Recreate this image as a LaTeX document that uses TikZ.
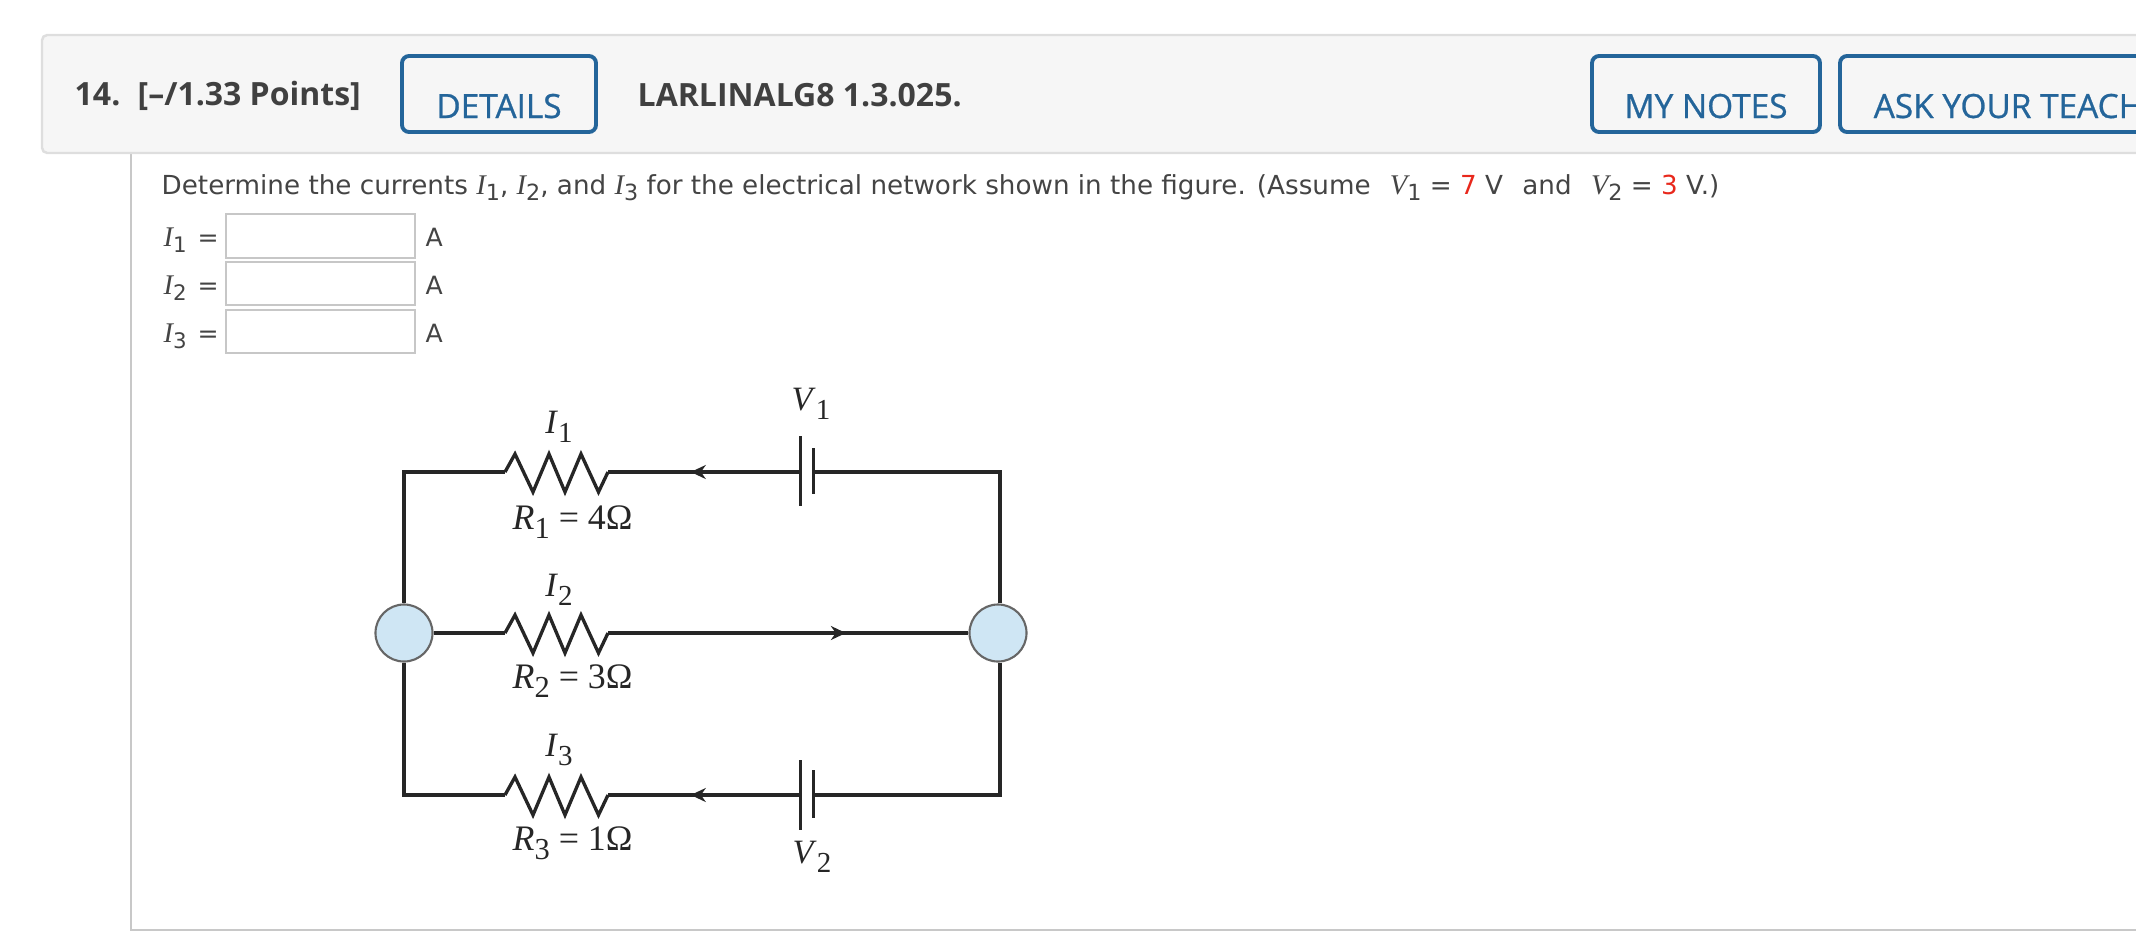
\documentclass[tikz,border=0pt]{standalone}
\usepackage{fontspec}
\usepackage{graphicx}
\setmainfont{DejaVu Sans}
\newfontfamily\headfont{Open Sans}
\newfontfamily\btnfont[FakeBold=.8]{Open Sans}
\newfontfamily\figfont{Liberation Serif}
\usetikzlibrary{arrows.meta, decorations.markings}
\definecolor{barfill}{HTML}{F6F6F6}
\definecolor{barline}{HTML}{DEDEDE}
\definecolor{panelline}{HTML}{C8C8C8}
\definecolor{btnblue}{HTML}{24659A}
\definecolor{bodytext}{HTML}{444444}
\definecolor{valuered}{HTML}{E8281C}
\definecolor{nodeblue}{HTML}{CFE6F4}
\newcommand{\qvar}[2]{{\figfont\itshape\fontsize{8.1}{9}\selectfont #1}\raisebox{-.45ex}{\scalebox{.85}{#2}}}
\newcommand{\figvar}[2]{\textit{#1}\raisebox{-.6ex}{\scalebox{.85}{#2}}}
\tikzset{
    headtext/.style={anchor=base west, inner sep=0pt, text=black!75, font=\headfont\bfseries\fontsize{9.1}{10}\selectfont},
    btn/.style={draw=btnblue, line width=1.1pt, rounded corners=2pt},
    btntext/.style={anchor=base, inner sep=0pt, text=btnblue, font=\btnfont\fontsize{9.5}{10}\selectfont},
    bodylabel/.style={anchor=base west, inner sep=0pt, text=bodytext, font=\fontsize{7.15}{9}\selectfont},
    inbox/.style={draw=black!22, line width=.4pt, fill=white},
    wire/.style={draw=black!85, line width=.95pt},
    plate/.style={draw=black!85, line width=.85pt},
    junction/.style={circle, draw=black!60, line width=.6pt, fill=nodeblue, minimum size=.57cm, inner sep=0pt},
    figlabel/.style={inner sep=0pt, text=black!85, font=\figfont\fontsize{9.7}{11}\selectfont},
    ohmlabel/.style={anchor=base west, inner sep=0pt, text=black!85, font=\figfont\fontsize{10.2}{11}\selectfont},
    flow/.style={postaction={decorate}, decoration={markings, mark=at position #1 with {\arrow{Stealth[length=1.5mm, width=1.4mm]}}}},
}
\begin{document}
\begin{tikzpicture}[x=0.01cm, y=-0.01cm]
    \useasboundingbox (0,0) rectangle (2136,936);
    \clip (0,0) rectangle (2136,936);
    % page panel and header
    \draw[panelline, line width=.6pt] (131,153) -- (131,930) -- (2200,930);
    \draw[fill=barfill, draw=barline, line width=.7pt, rounded corners=1.5pt] (42,35) rectangle (2200,153);
    \node[headtext] (qnum) at (74,105) {14.};
    \node[headtext] (points) at (137,105) {[–/1.33 Points]};
    \node[headtext] (code) at (637,106) {LARLINALG8 1.3.025.};
    \draw[btn] (402,56) rectangle (596,132);
    \draw[btn] (1592,56) rectangle (1820,132);
    \draw[btn] (1840,56) rectangle (2200,132);
    \node[btntext] (details) at (499,118) {DETAILS};
    \node[btntext] (notes) at (1706,118) {MY NOTES};
    \node[btntext, anchor=base west] (ask) at (1873,118) {ASK YOUR TEACH};

    % question and answer rows
    \node[bodylabel, font=\fontsize{7.45}{9}\selectfont] (question) at (161,194) {Determine the currents \qvar{I}{1}, \qvar{I}{2}, and \qvar{I}{3} for the electrical network shown in the figure. (Assume\hspace{5.5pt}\qvar{V}{1} = \textcolor{valuered}{7} V\hspace{5.5pt}and\hspace{5.5pt}\qvar{V}{2} = \textcolor{valuered}{3} V.)};
    \draw[inbox] (226,214) rectangle (415,258);
    \draw[inbox] (226,262) rectangle (415,305);
    \draw[inbox] (226,310) rectangle (415,353);
    \node[bodylabel] (eqa) at (163,246) {\qvar{I}{1}\hspace{.8pt} =};
    \node[bodylabel] (eqb) at (163,294) {\qvar{I}{2}\hspace{.8pt} =};
    \node[bodylabel] (eqc) at (163,342) {\qvar{I}{3}\hspace{.8pt} =};
    \node[bodylabel] (unita) at (425,246) {A};
    \node[bodylabel] (unitb) at (425,294) {A};
    \node[bodylabel] (unitc) at (425,342) {A};

    % network
    \coordinate (cornerA) at (404,472);
    \coordinate (cornerB) at (1000,472);
    \coordinate (cornerC) at (404,795);
    \coordinate (cornerD) at (1000,795);
    \node[junction] (left) at (404,633) {};
    \node[junction] (right) at (998,633) {};
    \foreach \name/\ypos in {one/472, two/633, three/795} {
        \coordinate (\name a) at (505,\ypos);
        \coordinate (\name b) at (608,\ypos);
        \draw[wire, line join=miter] (\name a) -- ++(10,-18) -- ++(18,38) -- ++(16,-38) -- ++(16,38) -- ++(16,-38) -- ++(17.5,38) -- (\name b);
    }
    \coordinate (batA) at (800.5,472);
    \coordinate (batB) at (813,472);
    \coordinate (batC) at (800.5,795);
    \coordinate (batD) at (813,795);
    \draw[plate] (800.5,436) -- (batA) -- (800.5,506);
    \draw[plate] (813,448) -- (batB) -- (813,494);
    \draw[plate] (800.5,760) -- (batC) -- (800.5,830);
    \draw[plate] (813,770) -- (batD) -- (813,818);
    \draw[wire] (left) -- (cornerA) -- (onea);
    \draw[wire, flow=.57] (batA) -- (oneb);
    \draw[wire] (batB) -- (cornerB) -- (cornerB |- right.north);
    \draw[wire] (left) -- (twoa);
    \draw[wire, flow=.66] (twob) -- (right);
    \draw[wire] (left) -- (cornerC) -- (threea);
    \draw[wire, flow=.57] (batC) -- (threeb);
    \draw[wire] (batD) -- (cornerD) -- (cornerD |- right.south);

    % figure labels
    \node[figlabel] (ione) at (559,427) {\figvar{I}{1}};
    \node[figlabel] (itwo) at (559,590) {\figvar{I}{2}};
    \node[figlabel] (ithree) at (559,750) {\figvar{I}{3}};
    \node[figlabel] (vone) at (811,404) {\figvar{V}{1}};
    \node[figlabel] (vtwo) at (812,857) {\figvar{V}{2}};
    \node[ohmlabel] (rone) at (512,529) {\figvar{R}{1} = 4Ω};
    \node[ohmlabel] (rtwo) at (512,688) {\figvar{R}{2} = 3Ω};
    \node[ohmlabel] (rthree) at (512,850) {\figvar{R}{3} = 1Ω};
\end{tikzpicture}
\end{document}
